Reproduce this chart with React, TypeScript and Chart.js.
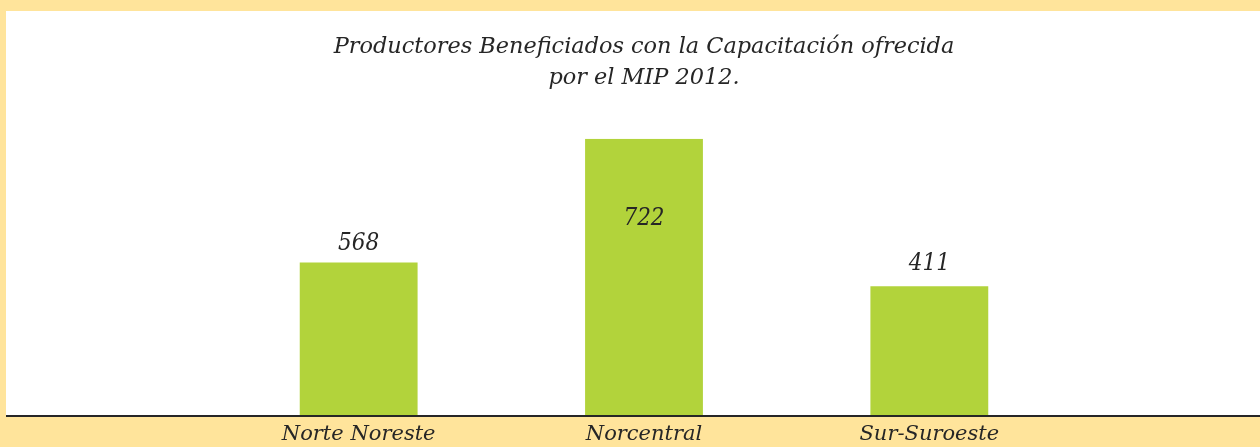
import React, { useEffect, useRef } from "react";
import { Chart, registerables } from "chart.js";

Chart.register(...registerables);

const categories = ["Norte Noreste", "Norcentral", "Sur-Suroeste"];
const valueLabels = [568, 722, 411];
// bar heights as drawn in the picture (the original bars are not to scale with their labels)
const barValues = [400, 722, 338];
const titleLines = ["Productores Beneficiados con la Capacitación ofrecida", "por el MIP 2012."];

const FONT = "'DejaVu Serif', serif";
const FONT_C = "'DejaVu Serif Condensed', 'DejaVu Serif', serif";
const YELLOW = "#FFE49B";
const GREEN = "#B2D33B";
const TEXT = "#262626";

const framePlugin = {
  id: "frame",
  beforeDraw(chart: any) {
    const { ctx, width, height, chartArea } = chart;
    ctx.save();
    ctx.fillStyle = YELLOW;
    ctx.fillRect(0, 0, width, height);
    ctx.fillStyle = "#FFFFFF";
    ctx.fillRect(6, 11, width - 6, chartArea.bottom - 11);
    ctx.restore();
  },
  afterDatasetsDraw(chart: any) {
    const { ctx, width, chartArea } = chart;
    ctx.save();
    ctx.strokeStyle = TEXT;
    ctx.lineWidth = 2;
    ctx.beginPath();
    ctx.moveTo(6, chartArea.bottom);
    ctx.lineTo(width, chartArea.bottom);
    ctx.stroke();
    // value labels
    const offsets = [-19, 80, -22];
    const meta = chart.getDatasetMeta(0);
    ctx.fillStyle = TEXT;
    ctx.font = `italic 24px ${FONT_C}`;
    ctx.textAlign = "center";
    ctx.textBaseline = "middle";
    meta.data.forEach((bar: any, i: number) => {
      ctx.fillText(String(valueLabels[i]), bar.x, bar.y + offsets[i]);
    });
    ctx.restore();
  },
};

export default function App() {
  const ref = useRef<HTMLCanvasElement>(null);
  useEffect(() => {
    document.body.style.margin = "0";
    const chart = new Chart(ref.current!, {
      type: "bar",
      data: {
        labels: categories,
        datasets: [
          {
            data: barValues,
            backgroundColor: GREEN,
            borderWidth: 0,
            barPercentage: 0.413,
            categoryPercentage: 1,
          },
        ],
      },
      options: {
        responsive: false,
        animation: false,
        layout: { padding: { left: 216, right: 188, top: 20, bottom: 0 } },
        plugins: {
          legend: { display: false },
          tooltip: { enabled: false },
          title: {
            display: true,
            text: titleLines,
            color: TEXT,
            font: { family: FONT, size: 22.4, style: "italic", weight: "normal", lineHeight: 1.38 },
            padding: { top: 12, bottom: 45 },
          },
        },
        scales: {
          x: {
            grid: { display: false, drawTicks: false },
            border: { display: false },
            ticks: {
              color: TEXT,
              font: { family: FONT, size: 21, style: "italic" },
              padding: 6,
              maxRotation: 0,
            },
            afterFit(scale: any) {
              scale.height = 31;
            },
          },
          y: {
            display: false,
            min: 0,
            max: Math.max(...barValues),
          },
        },
      },
      plugins: [framePlugin],
    });
    return () => chart.destroy();
  }, []);
  return (
    <div style={{ width: 1260, height: 447 }}>
      <canvas ref={ref} width={1260} height={447} />
    </div>
  );
}
